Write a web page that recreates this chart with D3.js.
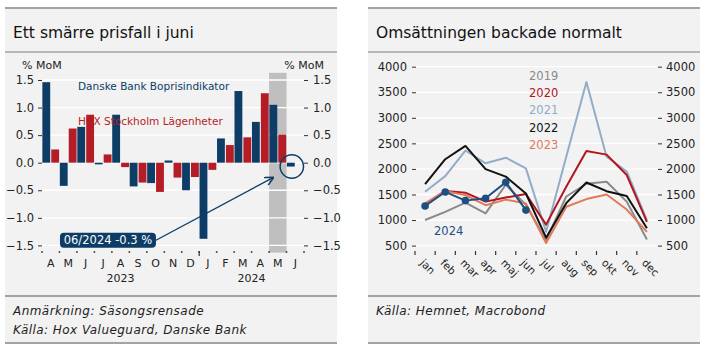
<!DOCTYPE html>
<html>
<head>
<meta charset="utf-8">
<script src="https://cdn.jsdelivr.net/npm/d3@7"></script>
<style>
  body { margin: 0; background: #fff; }
  svg { display: block; font-family: "DejaVu Sans", sans-serif; }
</style>
</head>
<body>
<div id="chart"></div>
<script>
// left chart: monthly price change, % MoM
const months = ['A','M','J','J','A','S','O','N','D','J','F','M','A','M','J']
const years = [{label: '2023', from: 0, to: 9}, {label: '2024', from: 9, to: 15}]
const danske = [1.46, -0.42, 0.65, -0.03, 0.87, -0.43, -0.37, 0.04, -0.50, -1.38, 0.44, 1.30, 0.74, 1.05, -0.07]
const hox = [0.24, 0.62, 0.87, 0.15, -0.08, -0.36, -0.53, -0.27, -0.26, -0.13, 0.32, 0.46, 1.26, 0.51, null]
const pctTicks = [-1.5, -1.0, -0.5, 0.0, 0.5, 1.0, 1.5]

// right chart: sales per month
const monthNames = ['jan','feb','mar','apr','maj','jun','jul','aug','sep','okt','nov','dec']
const s2019 = [1000, 1160, 1340, 1130, 1690, 1300, 605, 1460, 1710, 1750, 1360, 620]
const s2020 = [1310, 1570, 1535, 1360, 1440, 1510, 910, 1650, 2350, 2280, 1880, 965]
const s2021 = [1555, 1860, 2360, 2110, 2220, 2010, 770, 2240, 3700, 2240, 1950, 1000]
const s2022 = [1705, 2190, 2450, 1995, 1850, 1520, 655, 1330, 1735, 1565, 1470, 840]
const s2023 = [1325, 1565, 1490, 1290, 1400, 1325, 550, 1260, 1410, 1500, 1205, 770]
const s2024 = [1275, 1550, 1380, 1425, 1740, 1195]
const salesTicks = [500, 1000, 1500, 2000, 2500, 3000, 3500, 4000]

const W = 706, H = 350
const blue = '#0d3d66', red = '#b51d26', panelBg = '#f2f2f2', rule = '#a3a3a3'

const svg = d3.select('#chart').append('svg')
  .attr('width', W).attr('height', H)
  .attr('viewBox', `0,0,${W},${H}`)

const defs = svg.append('defs')
defs.append('marker')
    .attr('id', 'arrow')
    .attr('viewBox', '0 0 10 10')
    .attr('refX', 9).attr('refY', 5)
    .attr('markerWidth', 7).attr('markerHeight', 7)
    .attr('orient', 'auto-start-reverse')
  .append('path')
    .attr('d', 'M0,0 L10,5 L0,10')
    .attr('fill', 'none')
    .attr('stroke', blue)
    .attr('stroke-width', 1.6)

function panel(x0, x1, title, notes){
  const g = svg.append('g')
  g.append('rect')
    .attr('x', x0).attr('y', 8)
    .attr('width', x1 - x0).attr('height', 336)
    .attr('fill', panelBg)
  ;[[8, 2], [52, 1.5], [296, 2], [343, 2]].forEach(([y, w]) => {
    g.append('line')
      .attr('x1', x0).attr('x2', x1)
      .attr('y1', y).attr('y2', y)
      .attr('stroke', rule).attr('stroke-width', w)
  })
  g.append('text')
    .attr('x', x0 + 8).attr('y', 38)
    .attr('font-size', 15.5)
    .attr('fill', '#111')
    .text(title)
  notes.forEach((n, i) => {
    g.append('text')
      .attr('x', x0 + 8).attr('y', 315 + i * 19)
      .attr('font-size', 12)
      .attr('letter-spacing', 0.45)
      .attr('font-style', 'italic')
      .attr('fill', '#222')
      .text(n)
  })
}

panel(5, 337, 'Ett smärre prisfall i juni', ['Anmärkning: Säsongsrensade', 'Källa: Hox Valueguard, Danske Bank'])
panel(368, 700, 'Omsättningen backade normalt', ['Källa: Hemnet, Macrobond'])

// ---------- left chart ----------
{
  const left = 42, right = 304
  const x = d3.scaleBand().domain(d3.range(months.length)).range([left, right])
  const sub = d3.scaleBand().domain(['dk', 'hox']).range([0, x.bandwidth()]).paddingInner(0.12).paddingOuter(0.04)
  const y = d3.scaleLinear().domain([-1.5, 1.5]).range([245.4, 80])

  const g = svg.append('g')

  // shaded latest published month
  g.append('rect')
    .attr('x', x(13)).attr('width', x.bandwidth())
    .attr('y', y(1.63)).attr('height', y(-1.63) - y(1.63))
    .attr('fill', '#bfbfbf')

  g.append('g').selectAll('line').data(pctTicks).enter().append('line')
    .attr('x1', left).attr('x2', right)
    .attr('y1', d => y(d)).attr('y2', d => y(d))
    .attr('stroke', '#fff').attr('stroke-width', 1.3)

  g.append('g').attr('fill', red)
    .selectAll('rect').data(hox.map((v, i) => ({v, i})).filter(d => d.v !== null)).enter().append('rect')
      .attr('x', d => x(d.i) + sub('hox'))
      .attr('width', sub.bandwidth())
      .attr('y', d => y(Math.max(0, d.v)))
      .attr('height', d => Math.abs(y(d.v) - y(0)))

  g.append('g').attr('fill', blue)
    .selectAll('rect').data(danske.map((v, i) => ({v, i}))).enter().append('rect')
      .attr('x', d => x(d.i) + sub('dk'))
      .attr('width', sub.bandwidth())
      .attr('y', d => y(Math.max(0, d.v)))
      .attr('height', d => Math.abs(y(d.v) - y(0)))

  const fmt = d3.format('.1f')
  const yLeft = g => g
    .attr('transform', `translate(${left},0)`)
    .call(d3.axisLeft(y).tickValues(pctTicks).tickSize(4).tickPadding(4).tickFormat(fmt))
    .call(g => g.select('.domain').remove())
  const yRight = g => g
    .attr('transform', `translate(${right},0)`)
    .call(d3.axisRight(y).tickValues(pctTicks).tickSize(4).tickPadding(5).tickFormat(fmt))
    .call(g => g.select('.domain').remove())
  ;[yLeft, yRight].forEach(a => {
    g.append('g').call(a)
      .call(g => g.selectAll('text').attr('font-size', 11.5).attr('fill', '#222').attr('font-family', 'DejaVu Sans'))
      .call(g => g.selectAll('line').attr('stroke', '#333'))
  })

  g.append('text').attr('x', 22).attr('y', 69).attr('font-size', 11).attr('fill', '#222').text('% MoM')
  g.append('text').attr('x', 324).attr('y', 69).attr('font-size', 11).attr('fill', '#222').attr('text-anchor', 'end').text('% MoM')

  // x axis: month dots, year separator, labels
  const axisY = 252
  g.append('g').selectAll('rect').data(d3.range(months.length + 1)).enter().append('rect')
    .attr('x', d => left + d * x.step() - 0.8).attr('y', axisY - 0.8)
    .attr('width', 1.6).attr('height', 1.6)
    .attr('fill', '#333')
  g.append('line')
    .attr('x1', x(9)).attr('x2', x(9))
    .attr('y1', axisY - 1).attr('y2', axisY + 4)
    .attr('stroke', '#333').attr('stroke-width', 1.2)
  g.append('g').selectAll('text').data(months).enter().append('text')
    .attr('x', (d, i) => x(i) + x.bandwidth() / 2)
    .attr('y', 267)
    .attr('text-anchor', 'middle')
    .attr('font-size', 11)
    .attr('fill', '#222')
    .text(d => d)
  g.append('g').selectAll('text').data(years).enter().append('text')
    .attr('x', d => (x(d.from) + x(d.to - 1) + x.bandwidth()) / 2)
    .attr('y', 282)
    .attr('text-anchor', 'middle')
    .attr('font-size', 11)
    .attr('fill', '#222')
    .text(d => d.label)

  // series labels
  g.append('text').attr('x', 78).attr('y', 90).attr('font-size', 10.5).attr('fill', blue).text('Danske Bank Boprisindikator')
  g.append('text').attr('x', 78).attr('y', 125).attr('font-size', 10.5).attr('fill', red).text('HOX Stockholm Lägenheter')

  // annotation for June
  const cx = x(14) + sub('dk') + sub.bandwidth() / 2 + 1, cy = y(-0.07)
  g.append('circle')
    .attr('cx', cx).attr('cy', cy).attr('r', 11.7)
    .attr('fill', 'none').attr('stroke', blue).attr('stroke-width', 1.5)
  const boxX = x(1) + 0.5, boxY = y(-1.27), boxW = 96, boxH = 15
  g.append('line')
    .attr('x1', boxX + boxW).attr('y1', boxY + boxH / 2)
    .attr('x2', x(13) + 4).attr('y2', y(-0.27))
    .attr('stroke', blue).attr('stroke-width', 1.3)
    .attr('marker-end', 'url(#arrow)')
  g.append('rect')
    .attr('x', boxX).attr('y', boxY)
    .attr('width', boxW).attr('height', boxH)
    .attr('rx', 4)
    .attr('fill', blue)
  g.append('text')
    .attr('x', boxX + boxW / 2).attr('y', boxY + 11.7)
    .attr('text-anchor', 'middle')
    .attr('font-size', 11.5)
    .attr('fill', '#fff')
    .text('06/2024 -0.3 %')
}

// ---------- right chart ----------
{
  const left = 415, right = 657
  const x = d3.scaleBand().domain(monthNames).range([left, right])
  const y = d3.scaleLinear().domain([500, 4000]).range([245.6, 66.7])
  const g = svg.append('g')

  g.append('g').selectAll('line').data(salesTicks).enter().append('line')
    .attr('x1', left).attr('x2', right)
    .attr('y1', d => y(d)).attr('y2', d => y(d))
    .attr('stroke', '#fff').attr('stroke-width', 1.3)

  const yLeft = g => g
    .attr('transform', `translate(${left + 1},0)`)
    .call(d3.axisLeft(y).tickValues(salesTicks).tickSize(4).tickPadding(5).tickFormat(d3.format('d')))
    .call(g => g.select('.domain').remove())
  const yRight = g => g
    .attr('transform', `translate(${right + 1},0)`)
    .call(d3.axisRight(y).tickValues(salesTicks).tickSize(4).tickPadding(4).tickFormat(d3.format('d')))
    .call(g => g.select('.domain').remove())
  ;[yLeft, yRight].forEach(a => {
    g.append('g').call(a)
      .call(g => g.selectAll('text').attr('font-size', 11.5).attr('fill', '#222').attr('font-family', 'DejaVu Sans'))
      .call(g => g.selectAll('line').attr('stroke', '#333'))
  })

  g.append('g').selectAll('line').data(monthNames).enter().append('line')
    .attr('x1', d => x(d)).attr('x2', d => x(d))
    .attr('y1', 251).attr('y2', 255)
    .attr('stroke', '#333').attr('stroke-width', 1.2)
  g.append('g').selectAll('text').data(monthNames).enter().append('text')
    .attr('transform', d => `translate(${x(d) + x.bandwidth() / 2 - 3},261) rotate(45)`)
    .attr('dy', '0.35em')
    .attr('font-size', 10.5)
    .attr('fill', '#222')
    .text(d => d)

  const series = [
    {name: '2019', values: s2019, color: '#8a8a8a'},
    {name: '2021', values: s2021, color: '#93acc7'},
    {name: '2020', values: s2020, color: '#b3141d'},
    {name: '2023', values: s2023, color: '#e07a58'},
    {name: '2022', values: s2022, color: '#111111'},
    {name: '2024', values: s2024, color: '#1f4f82'}
  ]
  const line = d3.line()
    .x((d, i) => x(monthNames[i]) + x.bandwidth() / 2)
    .y(d => y(d))
  g.append('g').selectAll('path').data(series).enter().append('path')
    .attr('d', d => line(d.values))
    .attr('fill', 'none')
    .attr('stroke', d => d.color)
    .attr('stroke-width', 2)
    .attr('stroke-linejoin', 'round')
  g.append('g').selectAll('circle').data(s2024).enter().append('circle')
    .attr('cx', (d, i) => x(monthNames[i]) + x.bandwidth() / 2)
    .attr('cy', d => y(d))
    .attr('r', 3.8)
    .attr('fill', '#1f4f82')

  const legend = [
    {name: '2019', color: '#8a8a8a'},
    {name: '2020', color: '#b3141d'},
    {name: '2021', color: '#93acc7'},
    {name: '2022', color: '#111111'},
    {name: '2023', color: '#e07a58'}
  ]
  g.append('g').selectAll('text').data(legend).enter().append('text')
    .attr('x', 529)
    .attr('y', (d, i) => 80 + i * 17.2)
    .attr('font-size', 11.5)
    .attr('fill', d => d.color)
    .text(d => d.name)
  g.append('text').attr('x', 434).attr('y', 235).attr('font-size', 11.5).attr('fill', '#1f4f82').text('2024')
}
</script>
</body>
</html>
